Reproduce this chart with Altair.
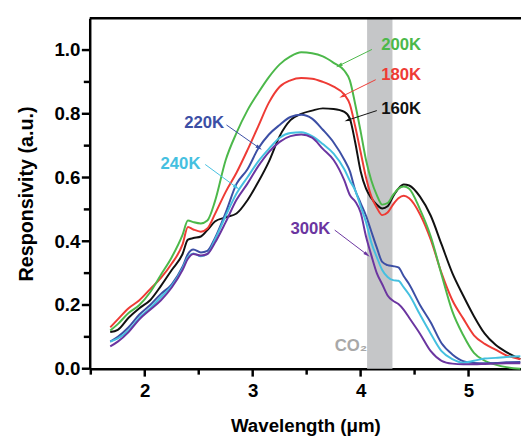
import math
import altair as alt
import pandas as pd

# ---------------- data ----------------
wavelength = [1.68, 1.75, 1.85, 1.95, 2.05, 2.15, 2.25, 2.35, 2.40, 2.45, 2.52, 2.58,
              2.65, 2.75, 2.85, 2.95, 3.05, 3.15, 3.25, 3.35, 3.45, 3.55, 3.65, 3.75,
              3.85, 3.90, 3.95, 4.00, 4.05, 4.10, 4.15, 4.20, 4.25, 4.30, 4.35, 4.40,
              4.45, 4.55, 4.65, 4.75, 4.85, 4.95, 5.05, 5.15, 5.25, 5.35, 5.48]

r160 = [0.115, 0.122, 0.160, 0.190, 0.215, 0.260, 0.310, 0.360, 0.405, 0.410, 0.415, 0.435,
        0.462, 0.475, 0.487, 0.528, 0.585, 0.650, 0.730, 0.780, 0.800, 0.810, 0.817, 0.815,
        0.806, 0.785, 0.710, 0.620, 0.565, 0.535, 0.515, 0.503, 0.510, 0.540, 0.565, 0.578,
        0.575, 0.540, 0.480, 0.390, 0.300, 0.230, 0.165, 0.110, 0.075, 0.052, 0.030]

r180 = [0.130, 0.155, 0.190, 0.215, 0.250, 0.285, 0.330, 0.390, 0.445, 0.437, 0.430, 0.440,
        0.485, 0.555, 0.615, 0.685, 0.760, 0.835, 0.885, 0.905, 0.912, 0.910, 0.900, 0.885,
        0.860, 0.830, 0.760, 0.680, 0.600, 0.540, 0.505, 0.482, 0.490, 0.515, 0.535, 0.543,
        0.535, 0.485, 0.405, 0.300, 0.215, 0.158, 0.105, 0.078, 0.060, 0.042, 0.030]

r200 = [0.120, 0.140, 0.175, 0.200, 0.240, 0.295, 0.350, 0.420, 0.465, 0.460, 0.456, 0.465,
        0.525, 0.655, 0.740, 0.810, 0.865, 0.915, 0.955, 0.980, 0.993, 0.990, 0.980, 0.960,
        0.935, 0.905, 0.830, 0.745, 0.655, 0.590, 0.545, 0.515, 0.520, 0.545, 0.565, 0.572,
        0.565, 0.500, 0.415, 0.295, 0.180, 0.106, 0.050, 0.025, 0.013, 0.005, 0.000]

r220 = [0.085, 0.100, 0.130, 0.170, 0.200, 0.235, 0.265, 0.320, 0.360, 0.374, 0.365, 0.370,
        0.410, 0.490, 0.580, 0.625, 0.690, 0.735, 0.765, 0.790, 0.797, 0.785, 0.750, 0.710,
        0.655, 0.620, 0.560, 0.520, 0.480, 0.430, 0.380, 0.335, 0.325, 0.322, 0.318, 0.290,
        0.265, 0.200, 0.145, 0.080, 0.045, 0.024, 0.018, 0.017, 0.018, 0.020, 0.021]

r240 = [0.085, 0.095, 0.120, 0.160, 0.190, 0.225, 0.260, 0.315, 0.350, 0.362, 0.353, 0.360,
        0.405, 0.480, 0.550, 0.600, 0.650, 0.690, 0.725, 0.740, 0.742, 0.730, 0.705, 0.675,
        0.625, 0.590, 0.560, 0.510, 0.460, 0.395, 0.350, 0.310, 0.288, 0.278, 0.276, 0.255,
        0.232, 0.170, 0.110, 0.055, 0.030, 0.019, 0.025, 0.032, 0.034, 0.037, 0.039]

r300 = [0.070, 0.085, 0.115, 0.155, 0.185, 0.215, 0.255, 0.310, 0.345, 0.360, 0.355, 0.360,
        0.395, 0.460, 0.530, 0.580, 0.635, 0.680, 0.712, 0.730, 0.735, 0.725, 0.690, 0.655,
        0.590, 0.545, 0.525, 0.490, 0.415, 0.355, 0.300, 0.265, 0.230, 0.213, 0.203, 0.185,
        0.160, 0.110, 0.055, 0.025, 0.016, 0.014, 0.014, 0.015, 0.016, 0.017, 0.017]

series_names = ["160K", "180K", "200K", "220K", "240K", "300K"]
series_values = [r160, r180, r200, r220, r240, r300]
series_colors = ["#111111", "#ee3b35", "#4cb84a", "#3c4fa5", "#45c0e0", "#6b35a0"]

# annotation labels and arrows
label_text = ["200K", "180K", "160K", "220K", "240K", "300K"]
label_x = [4.19, 4.19, 4.19, 2.365, 2.146, 3.35]
label_y = [1.017, 0.920, 0.816, 0.770, 0.642, 0.439]
arrow_x1 = [4.105, 4.14, 4.15, 2.757, 2.56, 3.76]
arrow_y1 = [1.002, 0.907, 0.810, 0.765, 0.641, 0.435]
arrow_x2 = [3.80, 3.83, 3.88, 3.06, 2.85, 4.06]
arrow_y2 = [0.951, 0.855, 0.780, 0.693, 0.569, 0.358]

co2_band = [4.06, 4.295]
co2_label = "CO₂"
co2_pos = [3.76, 0.072]

x_major = [2, 3, 4, 5]
x_minor = [1.5, 2.5, 3.5, 4.5]
y_major = [0.0, 0.2, 0.4, 0.6, 0.8, 1.0]
y_minor = [0.1, 0.3, 0.5, 0.7, 0.9]

# ---------------- layout ----------------
X_DOMAIN = [1.49, 5.486]
Y_DOMAIN = [0.0, 1.1]
W, H = 438, 356
FONT = "Liberation Sans"

rows = []
for name, vals in zip(series_names, series_values):
    for w, v in zip(wavelength, vals):
        rows.append({"wavelength": w, "resp": v, "series": name})
df = pd.DataFrame(rows)

px_x = W / (X_DOMAIN[1] - X_DOMAIN[0])
px_y = H / (Y_DOMAIN[1] - Y_DOMAIN[0])
angles = []
for a, b, c, d in zip(arrow_x1, arrow_y1, arrow_x2, arrow_y2):
    dx = (c - a) * px_x
    dy = -(d - b) * px_y
    angles.append(math.degrees(math.atan2(dx, -dy)) % 360)

ann = pd.DataFrame({"series": label_text, "lx": label_x, "ly": label_y,
                    "x1": arrow_x1, "y1": arrow_y1, "x2": arrow_x2, "y2": arrow_y2,
                    "ang": angles})

xscale = alt.Scale(domain=X_DOMAIN, nice=False, zero=False)
yscale = alt.Scale(domain=Y_DOMAIN, nice=False, zero=False)
cscale = alt.Scale(domain=series_names, range=series_colors)

xaxis = alt.Axis(
    title="Wavelength (μm)", values=x_major, format="d",
    ticks=False, tickSize=0,
    grid=False, domainColor="black", domainWidth=2.5,
    labelFont=FONT, labelFontSize=19, labelFontWeight="bold", labelColor="black",
    labelPadding=13, titleFont=FONT, titleFontSize=19, titleFontWeight="bold",
    titleColor="black", titlePadding=17,
)
yaxis = alt.Axis(
    title="Responsivity (a.u.)", values=y_major, format=".1f",
    ticks=False, tickSize=0,
    grid=False, domainColor="black", domainWidth=2.5,
    labelFont=FONT, labelFontSize=19, labelFontWeight="bold", labelColor="black",
    labelPadding=10, titleFont=FONT, titleFontSize=20, titleFontWeight="bold",
    titleColor="black", titlePadding=18,
)


def X(field):
    return alt.X(field, scale=xscale, axis=xaxis)


def Y(field):
    return alt.Y(field, scale=yscale, axis=yaxis)


band = alt.Chart(pd.DataFrame({"a": [co2_band[0]], "b": [co2_band[1]],
                               "y0": [Y_DOMAIN[0]], "y1": [Y_DOMAIN[1]]})).mark_rect(
    color="#c5c6c8").encode(x=X("a:Q"), x2="b:Q", y=Y("y0:Q"), y2="y1:Q")

co2 = alt.Chart(pd.DataFrame({"x": [co2_pos[0]], "y": [co2_pos[1]], "t": [co2_label]})).mark_text(
    align="left", baseline="middle", font=FONT, fontSize=17, fontWeight="bold",
    color="#a8a8a8").encode(x=X("x:Q"), y=Y("y:Q"), text="t:N")

lines = alt.Chart(df).mark_line(strokeWidth=2, interpolate="monotone").encode(
    x=X("wavelength:Q"), y=Y("resp:Q"),
    color=alt.Color("series:N", scale=cscale, legend=None),
    order=alt.Order("wavelength:Q"),
)

arrows = alt.Chart(ann).mark_rule(strokeWidth=1).encode(
    x=X("x1:Q"), y=Y("y1:Q"), x2="x2:Q", y2="y2:Q",
    color=alt.Color("series:N", scale=cscale, legend=None))

heads = alt.Chart(ann).mark_point(
    shape="M0,-1L0.55,1L-0.55,1Z", filled=True, opacity=1, size=45).encode(
    x=X("x2:Q"), y=Y("y2:Q"),
    angle=alt.Angle("ang:Q", scale=None),
    color=alt.Color("series:N", scale=cscale, legend=None))

labels = alt.Chart(ann).mark_text(
    align="left", baseline="middle", font=FONT, fontSize=17, fontWeight="bold").encode(
    x=X("lx:Q"), y=Y("ly:Q"), text="series:N",
    color=alt.Color("series:N", scale=cscale, legend=None))

top = alt.Chart(pd.DataFrame({"y": [Y_DOMAIN[1]]})).mark_rule(
    color="black", strokeWidth=2.5).encode(y=Y("y:Q"))

# axis tick marks (major and minor)
xt_major = alt.Chart(pd.DataFrame({"v": x_major})).mark_rule(
    color="black", strokeWidth=2.5).encode(x=X("v:Q"), y=alt.value(H), y2=alt.value(H + 8))
xt_minor = alt.Chart(pd.DataFrame({"v": x_minor})).mark_rule(
    color="black", strokeWidth=2.5).encode(x=X("v:Q"), y=alt.value(H), y2=alt.value(H + 6))
yt_major = alt.Chart(pd.DataFrame({"v": y_major})).mark_rule(
    color="black", strokeWidth=2.5).encode(y=Y("v:Q"), x=alt.value(0), x2=alt.value(-8))
yt_minor = alt.Chart(pd.DataFrame({"v": y_minor})).mark_rule(
    color="black", strokeWidth=2.5).encode(y=Y("v:Q"), x=alt.value(0), x2=alt.value(-6))

chart = alt.layer(band, co2, lines, arrows, heads, labels, top,
                  xt_major, xt_minor, yt_major, yt_minor).properties(
    width=W, height=H, autosize="none",
    padding={"left": 83, "top": 7, "right": 0, "bottom": 67},
    background="white",
).configure_view(stroke=None)

chart.save("out.html", embed_options={"renderer": "svg", "actions": False})
